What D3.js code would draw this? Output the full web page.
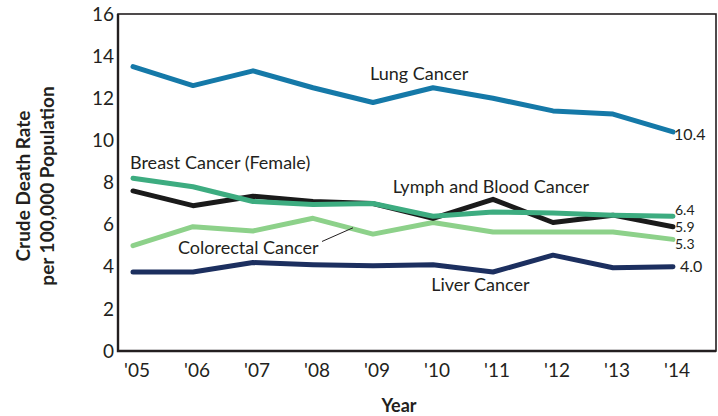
<!DOCTYPE html>
<html>
<head>
<meta charset="utf-8">
<script src="https://cdn.jsdelivr.net/npm/d3@7"></script>
<style>
  body { margin: 0; background: #fff; }
  text { font-family: Lato, "Open Sans", sans-serif; fill: #231f20; }
</style>
</head>
<body>
<div id="chart"></div>
<script>
var years = ["'05", "'06", "'07", "'08", "'09", "'10", "'11", "'12", "'13", "'14"];
var yTicks = [0, 2, 4, 6, 8, 10, 12, 14, 16];

var lung = [13.5, 12.6, 13.3, 12.5, 11.8, 12.5, 12.0, 11.4, 11.25, 10.4];
var breast = [8.2, 7.8, 7.1, 6.95, 7.0, 6.4, 6.6, 6.55, 6.45, 6.4];
var lymph = [7.6, 6.9, 7.35, 7.1, 7.0, 6.3, 7.2, 6.1, 6.45, 5.9];
var colorectal = [5.0, 5.9, 5.7, 6.3, 5.55, 6.1, 5.65, 5.65, 5.65, 5.3];
var liver = [3.75, 3.75, 4.2, 4.1, 4.05, 4.1, 3.75, 4.55, 3.95, 4.0];

var endLabels = ["10.4", "6.4", "5.9", "5.3", "4.0"];

var width = 718;
var height = 416;
var margin = { top: 14, right: 2, bottom: 65, left: 118 };

var svg = d3.select("#chart")
    .append("svg")
    .attr("width", width)
    .attr("height", height)

var x = d3.scalePoint()
    .domain(years)
    .range([133, 673])

var y = d3.scaleLinear()
    .domain([0, 16])
    .range([height - margin.bottom, margin.top])

/*
    series in draw order, with names and where the name sits
    (label spot given in data space: year index + value)
    ex/es: end label x nudge and font size
*/
var series = [
    { name: "Colorectal Cancer", values: colorectal, color: "#8dd18a", lx: 0.75, ly: 4.6, end: endLabels[3], ey: 5.08, ex: 2, es: 14 },
    { name: "Liver Cancer", values: liver, color: "#1c2f5f", lx: 4.97, ly: 2.85, end: endLabels[4], ey: 4.0, ex: 7, es: 16 },
    { name: "Lymph and Blood Cancer", values: lymph, color: "#1a1a1a", lx: 4.33, ly: 7.5, end: endLabels[2], ey: 5.89, ex: 2, es: 14 },
    { name: "Breast Cancer (Female)", values: breast, color: "#3dac80", lx: -0.05, ly: 8.65, end: endLabels[1], ey: 6.7, ex: 2, es: 14 },
    { name: "Lung Cancer", values: lung, color: "#1579a8", lx: 3.95, ly: 12.85, end: endLabels[0], ey: 10.3, ex: 1, es: 16 }
];

var line = d3.line()
    .x(function (d, i) { return x(years[i]) })
    .y(function (d) { return y(d) })

// frame
svg.append("rect")
    .attr("x", margin.left)
    .attr("y", margin.top)
    .attr("width", width - margin.left - margin.right)
    .attr("height", height - margin.bottom - margin.top)
    .attr("fill", "none")
    .attr("stroke", "#231f20")
    .attr("stroke-width", 1.6)

// heavier left + bottom axis lines
svg.append("path")
    .attr("d", "M" + margin.left + "," + margin.top + "V" + y(0) + "H" + (width - margin.right))
    .attr("fill", "none")
    .attr("stroke", "#231f20")
    .attr("stroke-width", 2.4)

// y tick labels
svg.selectAll(".ytick")
    .data(yTicks)
    .enter().append("text")
    .attr("class", "ytick")
    .attr("x", margin.left - 4)
    .attr("y", function (d) { return y(d) })
    .attr("dy", "0.35em")
    .attr("text-anchor", "end")
    .style("font-size", "19px")
    .text(function (d) { return d })

// x tick labels
svg.selectAll(".xtick")
    .data(years)
    .enter().append("text")
    .attr("class", "xtick")
    .attr("x", function (d) { return x(d) + 4 })
    .attr("y", y(0) + 26)
    .attr("text-anchor", "middle")
    .style("font-size", "19px")
    .text(function (d) { return d })

// axis titles
svg.append("text")
    .attr("x", 399)
    .attr("y", 412)
    .attr("text-anchor", "middle")
    .style("font-size", "18px")
    .style("font-weight", "bold")
    .text("Year")

var yTitle = svg.append("text")
    .attr("transform", "translate(30,186) rotate(-90)")
    .attr("text-anchor", "middle")
    .style("font-size", "19px")
    .style("font-weight", "bold")
yTitle.append("tspan").attr("x", 0).attr("dy", 0).text("Crude Death Rate")
yTitle.append("tspan").attr("x", 0).attr("dy", 24).text("per 100,000 Population")

// lines
svg.selectAll(".series")
    .data(series)
    .enter().append("path")
    .attr("class", "series")
    .attr("d", function (d) { return line(d.values) })
    .attr("fill", "none")
    .attr("stroke", function (d) { return d.color })
    .attr("stroke-width", 5)
    .attr("stroke-linejoin", "round")
    .attr("stroke-linecap", "round")

// series names
svg.selectAll(".name")
    .data(series)
    .enter().append("text")
    .attr("class", "name")
    .attr("x", function (d) { return 133 + d.lx * (x.step()) })
    .attr("y", function (d) { return y(d.ly) })
    .style("font-size", "18px")
    .text(function (d) { return d.name })

// end values
svg.selectAll(".endval")
    .data(series)
    .enter().append("text")
    .attr("class", "endval")
    .attr("x", function (d) { return x(years[9]) + d.ex })
    .attr("y", function (d) { return y(d.ey) })
    .attr("dy", "0.35em")
    .style("font-size", function (d) { return d.es + "px" })
    .text(function (d) { return d.end })

// leader from colorectal label to its line
svg.append("line")
    .attr("x1", x(years[3]) + 9)
    .attr("y1", y(5.2))
    .attr("x2", x(years[3]) + 40)
    .attr("y2", y(5.85))
    .attr("stroke", "#231f20")
    .attr("stroke-width", 1)
</script>
</body>
</html>
